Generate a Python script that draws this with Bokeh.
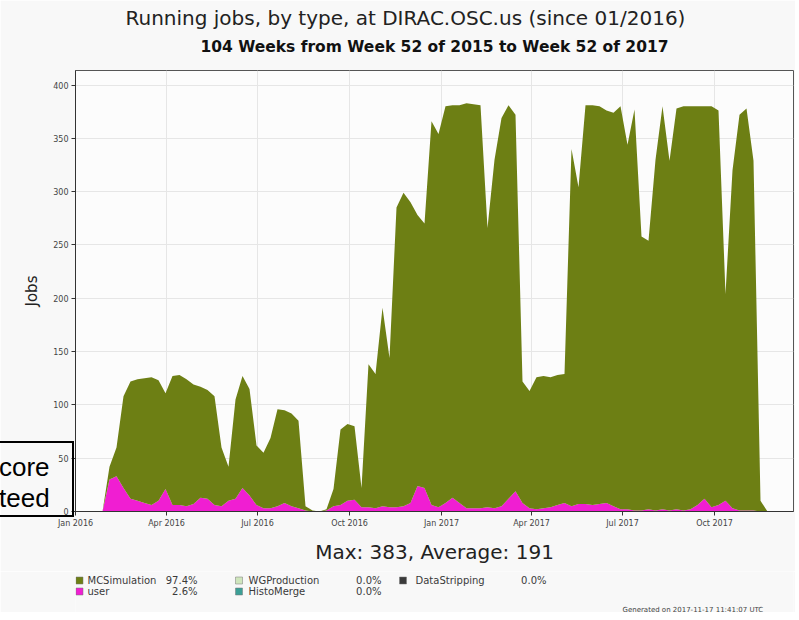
import pandas as pd
from datetime import datetime, timedelta
from bokeh.plotting import figure
from bokeh.layouts import column
from bokeh.core.properties import value
from bokeh.models import (Range1d, Title, MonthsTicker, LinearAxis, Div,
                          DatetimeTickFormatter, FixedTicker, ColumnDataSource)
from bokeh.embed import file_html
from bokeh.resources import INLINE

# ---------------- data ----------------
week_start = "2015-12-31"
mc_simulation = [0, 0, 0, 0, 0, 12, 27, 86, 110, 114,
                 117, 120, 113, 90, 121, 122, 119, 112, 104, 102,
                 102, 55, 32, 93, 105, 100, 56, 52, 66, 91,
                 87, 87, 82, 4, 1, 0, 1, 16, 71, 72,
                 69, 18, 134, 126, 186, 140, 281, 294, 282, 254,
                 248, 360, 350, 372, 368, 373, 380, 379, 378, 262,
                 327, 364, 369, 353, 114, 110, 124, 124, 122, 122,
                 121, 335, 297, 374, 375, 373, 368, 369, 378, 342,
                 376, 257, 252, 329, 378, 328, 376, 379, 378, 374,
                 368, 376, 370, 194, 317, 371, 377, 328, 10, 0]
user = [0, 0, 0, 0, 0, 30, 33, 22, 12, 10,
        8, 6, 10, 21, 6, 6, 5, 7, 13, 12,
        6, 5, 10, 12, 22, 15, 6, 3, 3, 5,
        8, 5, 3, 1, 0, 0, 1, 5, 6, 10,
        11, 4, 4, 3, 5, 4, 4, 5, 8, 24,
        22, 6, 4, 8, 13, 8, 3, 3, 3, 4,
        3, 5, 12, 19, 8, 3, 2, 3, 4, 6,
        8, 5, 7, 7, 6, 7, 8, 5, 2, 2,
        1, 1, 2, 1, 2, 1, 2, 1, 2, 6,
        12, 4, 6, 10, 3, 1, 1, 1, 0, 0]
weeks = pd.date_range(week_start, periods=len(user), freq="7D")

y_ticks = [0, 50, 100, 150, 200, 250, 300, 350, 400]
x_tick_months = [0, 3, 6, 9]          # Jan, Apr, Jul, Oct
x_start = datetime(2016, 1, 1)
x_end = x_start + timedelta(days=718)
y_max = 413.6

title_text = "Running jobs, by type, at DIRAC.OSC.us (since 01/2016)"
subtitle_text = "104 Weeks from Week 52 of 2015 to Week 52 of 2017"
stats_text = "Max: 383, Average: 191"
generated_text = "Generated on 2017-11-17 11:41:07 UTC"

legend_names = ["MCSimulation", "user", "WGProduction", "HistoMerge", "DataStripping"]
legend_pcts = ["97.4%", "2.6%", "0.0%", "0.0%", "0.0%"]

C_MC = "#6d7f14"
C_USER = "#f01ed2"
legend_colors = [C_MC, C_USER, "#cfe6bd", "#3c9f96", "#3a3a3a"]

FONT = "DejaVu Sans"
BG = "#f8f8f8"
FRAME_W = 718
LEFT = 75
RIGHT = 2

# ---------------- main chart ----------------
p = figure(frame_width=FRAME_W, frame_height=441, x_axis_type="datetime",
           output_backend="svg", toolbar_location=None,
           x_range=Range1d(x_start, x_end), y_range=Range1d(0, y_max),
           min_border_left=LEFT, min_border_right=RIGHT,
           min_border_top=62, min_border_bottom=60)
p.background_fill_color = "#fcfcfc"
p.border_fill_color = BG
p.outline_line_color = "#555555"
p.outline_line_width = 1

src = ColumnDataSource(dict(week=weeks, user=user, mc=mc_simulation))
p.varea_stack(["user", "mc"], x="week", color=[C_USER, C_MC], source=src)

p.xaxis.ticker = MonthsTicker(months=x_tick_months)
p.xaxis.formatter = DatetimeTickFormatter(months="%b %Y", days="%b %Y")
p.xgrid.ticker = MonthsTicker(months=x_tick_months)
p.yaxis.ticker = FixedTicker(ticks=y_ticks)
for ax in (p.xaxis[0], p.yaxis[0]):
    ax.major_label_text_font = FONT
    ax.major_label_text_font_size = "8px"
    ax.major_label_text_color = "#444444"
    ax.major_tick_out = 4
    ax.major_tick_in = 0
    ax.minor_tick_out = 0
    ax.minor_tick_in = 0
    ax.axis_line_color = "#333333"
    ax.major_tick_line_color = "#333333"
p.xaxis.major_label_standoff = 3
p.yaxis.major_label_standoff = 3
p.yaxis.axis_label = "Jobs"
p.yaxis.axis_label_text_font = FONT
p.yaxis.axis_label_text_font_size = "15px"
p.yaxis.axis_label_text_font_style = "normal"
p.yaxis.axis_label_text_color = "#222222"
p.yaxis.axis_label_standoff = 9
p.xgrid.grid_line_color = "#e6e6e6"
p.ygrid.grid_line_color = "#e6e6e6"


def label_axis(text, size, style, color, standoff):
    """Tick-less, line-less axis used only to carry a centred text line."""
    return LinearAxis(ticker=FixedTicker(ticks=[]), axis_label=text,
                      axis_label_text_font=FONT, axis_label_text_font_size=size,
                      axis_label_text_font_style=style, axis_label_text_color=color,
                      axis_label_standoff=standoff, axis_line_alpha=0,
                      major_tick_out=0, major_tick_in=0, minor_tick_out=0,
                      minor_tick_in=0, major_label_standoff=0)

# subtitle just above the frame, title above it
p.add_layout(label_axis(subtitle_text, "15.5px", "bold", "#111111", 15), "above")
p.add_layout(Title(text=title_text, align="left", offset=50, vertical_align="middle",
                   standoff=8, text_font=FONT, text_font_size="20px",
                   text_font_style="normal", text_color="#222222"), "above")
# statistics line below the x axis
p.add_layout(label_axis(stats_text, "20px", "normal", "#222222", 9), "below")

# ---------------- legend strip (page-pixel coordinates, y downward) ----------------
LEG_H = 41
leg = figure(frame_width=FRAME_W, frame_height=LEG_H, output_backend="svg",
             toolbar_location=None,
             x_range=Range1d(LEFT, LEFT + FRAME_W), y_range=Range1d(571 + LEG_H, 571),
             x_axis_location=None, y_axis_location=None,
             min_border_left=LEFT, min_border_right=RIGHT,
             min_border_top=0, min_border_bottom=0)
leg.outline_line_color = None
leg.background_fill_color = BG
leg.border_fill_color = BG
leg.xgrid.visible = False
leg.ygrid.visible = False

row_y = [580, 591]
col_sq = [79, 238.5, 402.5]
col_name = [87, 248, 415]
col_pct = [197, 381, 546]
slots = [(0, 0), (0, 1), (1, 0), (1, 1), (2, 0)]
sq_x = [col_sq[c] for c, r in slots]
sq_y = [row_y[r] for c, r in slots]
leg.scatter(x=sq_x, y=sq_y, marker="square", size=7, fill_color=legend_colors,
            line_color="#777777", line_width=0.5)
leg.text(x=[col_name[c] for c, r in slots], y=sq_y, text=legend_names,
         text_font=value(FONT), text_font_size="10px", text_color="#3a3a3a",
         text_align="left", text_baseline="middle")
leg.text(x=[col_pct[c] for c, r in slots], y=sq_y, text=legend_pcts,
         text_font=value(FONT), text_font_size="10px", text_color="#3a3a3a",
         text_align="right", text_baseline="middle")
leg.text(x=[622], y=[609], text=[generated_text], text_font=value(FONT),
         text_font_size="7px", text_color="#444444",
         text_align="left", text_baseline="middle")

# overlapping slide text box at the left edge
box = Div(text="core<br>teed",
          styles={"position": "absolute", "left": "-12px", "top": "436px",
                  "width": "81px", "height": "76px", "border": "2px solid black",
                  "box-sizing": "border-box", "padding": "9px 0 0 4px",
                  "font-family": "Liberation Sans", "font-size": "26px",
                  "line-height": "31px", "color": "black", "z-index": "10",
                  "background": "transparent", "background-color": "transparent",
                  "overflow": "hidden", "white-space": "nowrap"})

layout = column(p, leg, box, spacing=0)
open("out.html", "w").write(file_html(layout, INLINE))
